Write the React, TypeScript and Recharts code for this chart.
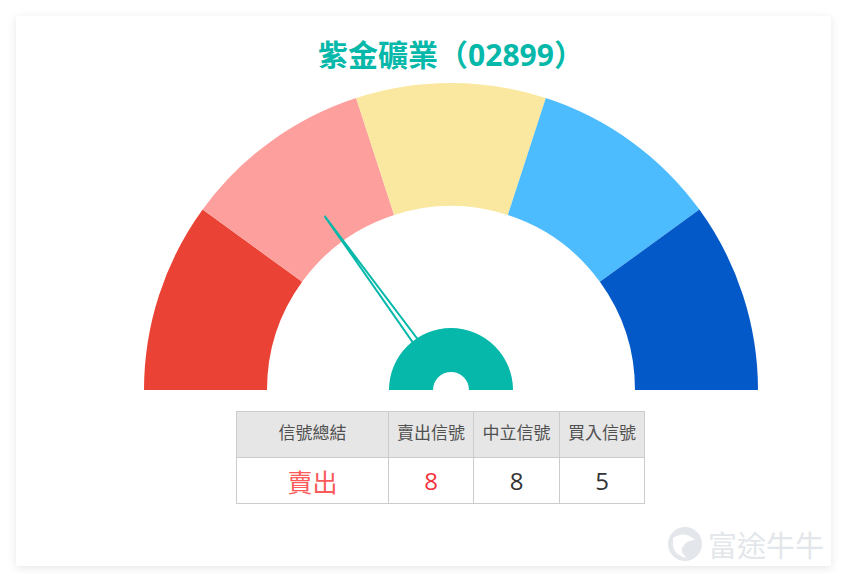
import React from 'react';
import { PieChart, Pie, Cell } from 'recharts';

const title = '紫金礦業（02899）';

const zones = [
  { name: '強烈賣出', value: 20 },
  { name: '賣出', value: 20 },
  { name: '中立', value: 20 },
  { name: '買入', value: 20 },
  { name: '強烈買入', value: 20 },
];
const ZONE_COLORS = ['#ea4335', '#fda09d', '#fae8a1', '#4dbcfe', '#0459c9'];

// needle position on a 0-100 scale
const needleValue = 30;
const needleMax = 100;

const headers = ['信號總結', '賣出信號', '中立信號', '買入信號'];
const summary = '賣出';
const counts = [8, 8, 5];
const countColors = ['#f5333f', '#333333', '#333333'];

const TEAL = '#05b8a9';
const CX = 435;
const CY = 374;
const W = 815;
const H = 400;
const COL_W = [152, 85, 86, 85];

const Needle = () => {
  const angle = 180 - (needleValue / needleMax) * 180;
  const rad = (angle * Math.PI) / 180;
  const len = 215;
  const start = 30;
  const half = 3.5;
  const cos = Math.cos(rad);
  const sin = Math.sin(rad);
  const tipX = CX + len * cos;
  const tipY = CY - len * sin;
  const bx = CX + start * cos;
  const by = CY - start * sin;
  const px = sin * half;
  const py = cos * half;
  const pts = `${tipX},${tipY} ${bx - px},${by - py} ${bx + px},${by + py}`;
  return (
    <svg width={W} height={H} style={{ position: 'absolute', left: 0, top: 0, zIndex: 1 }}>
      <polygon points={pts} fill="#ffffff" stroke={TEAL} strokeWidth={2} />
    </svg>
  );
};

const cell: React.CSSProperties = {
  border: '1px solid #cccccc',
  textAlign: 'center',
  padding: 0,
};

const layer: React.CSSProperties = { position: 'absolute', left: 0, top: 0 };

export default function App() {
  return (
    <div style={{ margin: 8, fontFamily: '"Noto Sans CJK TC", "Noto Sans", sans-serif' }}>
      <div
        style={{
          position: 'relative',
          width: 815,
          height: 550,
          background: '#ffffff',
          borderRadius: 2,
          boxShadow: '0 2px 10px rgba(0,0,0,0.10)',
        }}
      >
        <div
          style={{
            position: 'absolute',
            left: 0,
            width: 870,
            top: 19,
            textAlign: 'center',
            color: TEAL,
            fontSize: 30,
            fontWeight: 700,
            lineHeight: '40px',
            fontFamily: '"Noto Sans", "Noto Sans CJK TC", sans-serif',
          }}
        >
          {title}
        </div>
        <div style={layer}>
          <PieChart width={W} height={H} margin={{ top: 0, right: 0, bottom: 0, left: 0 }}>
            <Pie
              data={zones}
              dataKey="value"
              nameKey="name"
              cx={CX}
              cy={CY}
              startAngle={180}
              endAngle={0}
              innerRadius={184}
              outerRadius={307}
              stroke="none"
              isAnimationActive={false}
            >
              {zones.map((z, i) => (
                <Cell key={z.name} fill={ZONE_COLORS[i]} />
              ))}
            </Pie>
          </PieChart>
        </div>
        <Needle />
        <div style={{ ...layer, zIndex: 2 }}>
          <PieChart width={W} height={H} margin={{ top: 0, right: 0, bottom: 0, left: 0 }}>
            <Pie
              data={[{ name: 'hub', value: 1 }]}
              dataKey="value"
              cx={CX}
              cy={CY}
              startAngle={180}
              endAngle={0}
              innerRadius={18}
              outerRadius={62}
              fill={TEAL}
              stroke="none"
              isAnimationActive={false}
            />
          </PieChart>
        </div>
        <table
          style={{
            position: 'absolute',
            left: 220,
            top: 395,
            borderCollapse: 'collapse',
            tableLayout: 'fixed',
            width: 408,
          }}
        >
          <colgroup>
            {COL_W.map((w, i) => (
              <col key={i} style={{ width: w }} />
            ))}
          </colgroup>
          <tbody>
            <tr style={{ height: 46, background: '#e6e6e6' }}>
              {headers.map((h) => (
                <td key={h} style={{ ...cell, color: '#505050', fontSize: 17, paddingBottom: 6 }}>
                  {h}
                </td>
              ))}
            </tr>
            <tr style={{ height: 46, background: '#ffffff' }}>
              <td style={{ ...cell, color: '#fb5a5a', fontSize: 25 }}>{summary}</td>
              {counts.map((c, i) => (
                <td key={i} style={{ ...cell, color: countColors[i], fontSize: 24, fontFamily: '"Open Sans", sans-serif' }}>
                  {c}
                </td>
              ))}
            </tr>
          </tbody>
        </table>
        <div
          style={{
            position: 'absolute',
            left: 651,
            top: 510,
            display: 'flex',
            alignItems: 'center',
            color: '#e3e6ea',
            fontSize: 29,
            lineHeight: '36px',
          }}
        >
          <svg width={36} height={36} style={{ marginRight: 5 }}>
            <circle cx={18} cy={18} r={17} fill="#e3e6ea" />
            <path d="M6 12 Q18 4 28 14 Q20 14 16 20 Q12 26 20 32 Q8 30 6 20 Z" fill="#ffffff" />
            <circle cx={15} cy={19} r={2} fill="#ffffff" />
          </svg>
          <span>富途牛牛</span>
        </div>
      </div>
    </div>
  );
}
